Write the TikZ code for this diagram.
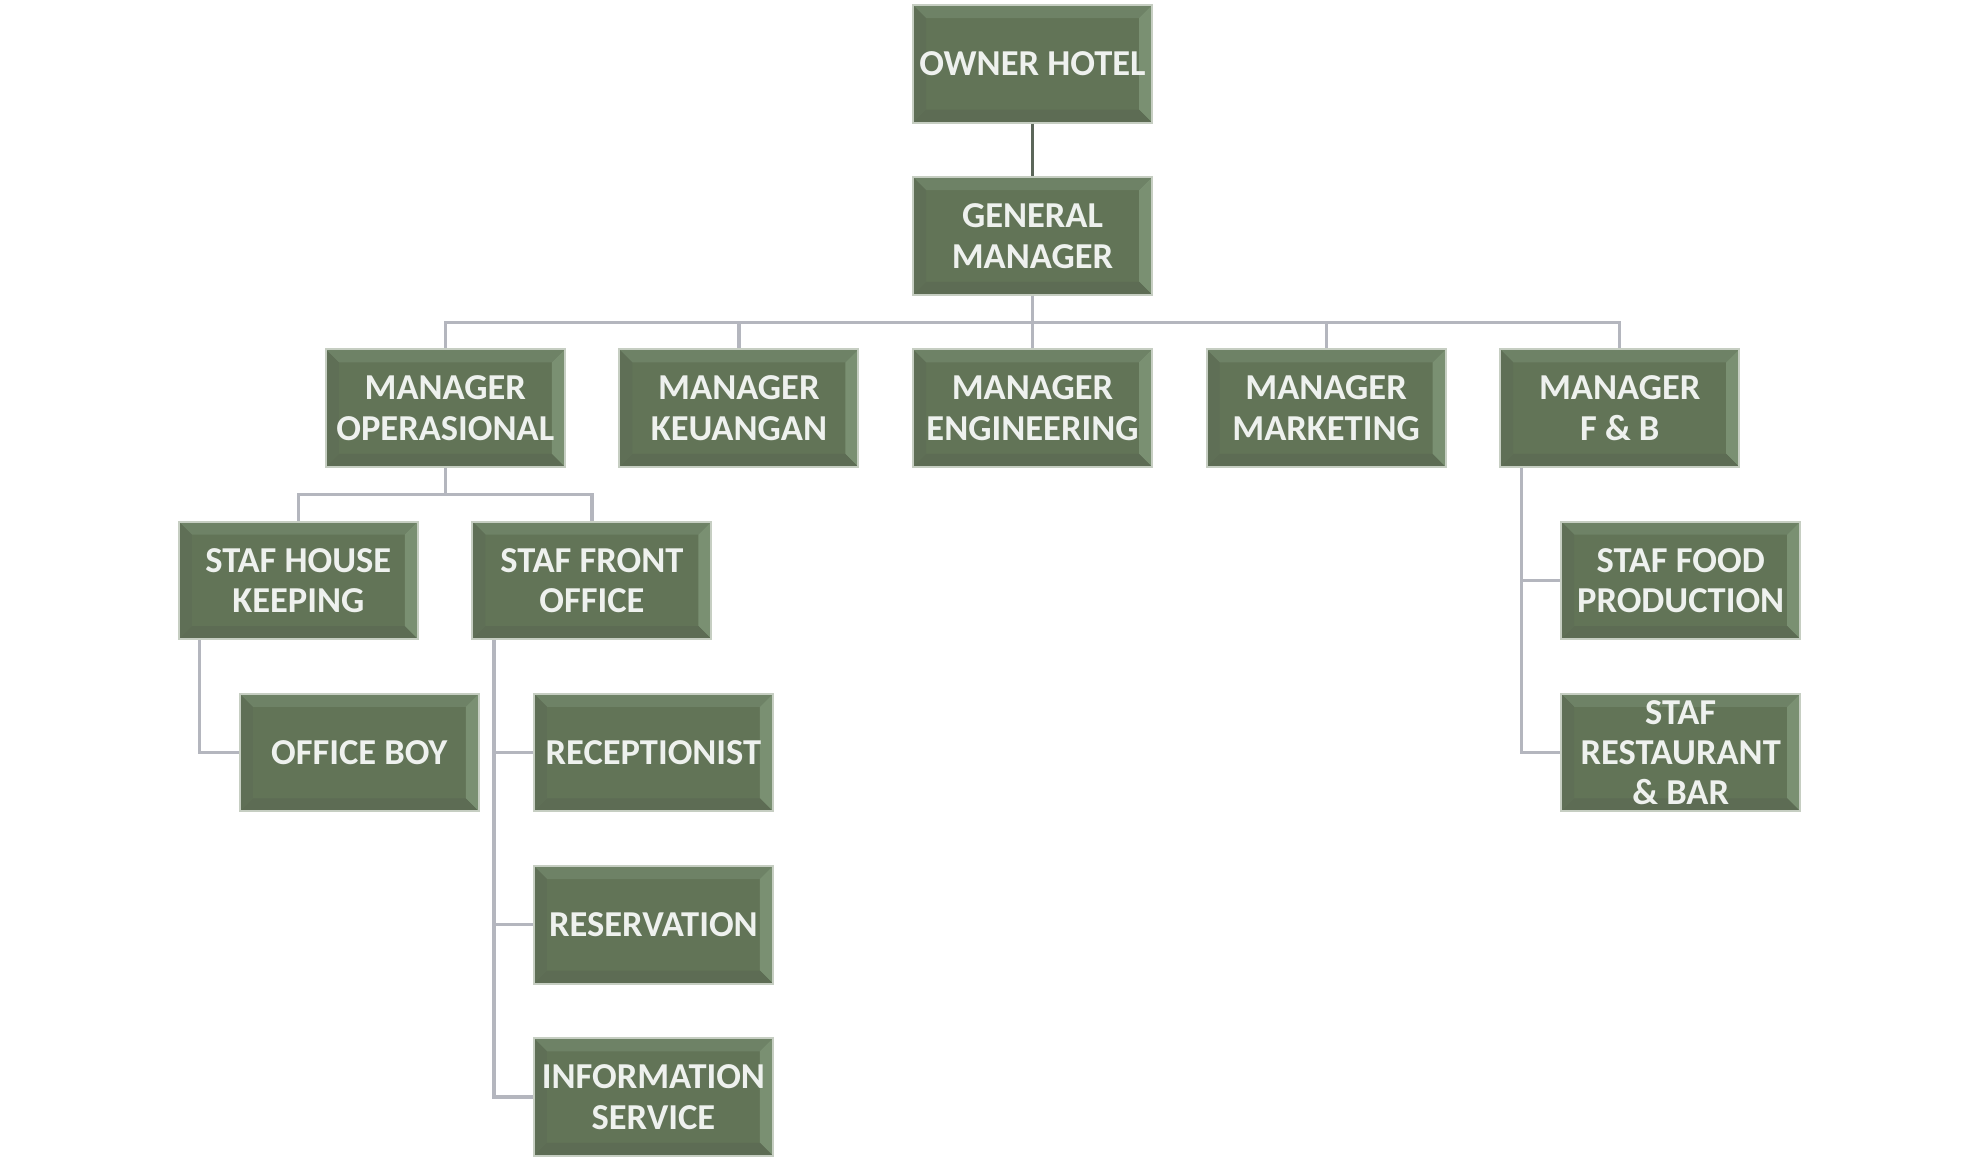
\documentclass[tikz,border=0pt]{standalone}
\usepackage{fontspec}
\setmainfont{Carlito}
\usetikzlibrary{positioning, calc}
\definecolor{boxfill}{HTML}{627457}
\definecolor{boxtop}{HTML}{6E8266}
\definecolor{boxright}{HTML}{7A9072}
\definecolor{boxleft}{HTML}{5F6F56}
\definecolor{boxbottom}{HTML}{5D6C54}
\definecolor{boxrim}{HTML}{C6CEC2}
\definecolor{boxtext}{HTML}{EEF1EE}
\definecolor{linkgray}{HTML}{B4B6BE}
\definecolor{trunkgray}{HTML}{5C675A}
\begin{document}
\begin{tikzpicture}[
  x=1pt, y=1pt,
  node distance=52.7pt and 52.6pt,
  box/.style={draw=boxrim, line width=2pt, fill=boxfill, text=boxtext,
    minimum width=239pt, minimum height=117.5pt, inner sep=0pt, align=center,
    font=\bfseries\fontsize{36.5}{40.4}\selectfont,
    path picture={
      \path (path picture bounding box.south west) coordinate (pw)
            (path picture bounding box.north east) coordinate (pe);
      \fill[boxtop] (pw|-pe) -- (pe) -- ($(pe)+(-13,-13)$) -- ($(pw|-pe)+(13,-13)$) -- cycle;
      \fill[boxright] (pe) -- (pe|-pw) -- ($(pe|-pw)+(-13,13)$) -- ($(pe)+(-13,-13)$) -- cycle;
      \fill[boxbottom] (pe|-pw) -- (pw) -- ($(pw)+(13,13)$) -- ($(pe|-pw)+(-13,13)$) -- cycle;
      \fill[boxleft] (pw) -- (pw|-pe) -- ($(pw|-pe)+(13,-13)$) -- ($(pw)+(13,13)$) -- cycle;
    }},
  link/.style={draw=linkgray, line width=3.2pt},
  trunk/.style={draw=trunkgray, line width=3.6pt}
]
\useasboundingbox (0,0) rectangle (1980,-1161);
\node[box] (owner) at (1032.5,-63.8) {OWNER HOTEL};
\node[box, below=of owner] (gm) {GENERAL\\MANAGER};
\node[box, below=of gm] (engmgr) {MANAGER\\ENGINEERING};
\node[box, left=of engmgr] (finmgr) {MANAGER\\KEUANGAN};
\node[box, left=of finmgr] (opsmgr) {MANAGER\\OPERASIONAL};
\node[box, right=of engmgr] (mktmgr) {MANAGER\\MARKETING};
\node[box, right=of mktmgr] (fbmgr) {MANAGER\\F \& B};
\node[box, below=of opsmgr, xshift=-147pt] (hk) {STAF HOUSE\\KEEPING};
\node[box, right=of hk] (fo) {STAF FRONT\\OFFICE};
\node[box, below=of hk, xshift=61pt] (oboy) {OFFICE BOY};
\node[box, below=of fo, xshift=61.5pt] (recep) {RECEPTIONIST};
\node[box, below=of recep] (reserv) {RESERVATION};
\node[box, below=of reserv] (info) {INFORMATION\\SERVICE};
\node[box, below=of fbmgr, xshift=61pt] (food) {STAF FOOD\\PRODUCTION};
\node[box, below=of food] (resto) {STAF\\RESTAURANT\\\& BAR};

\draw[trunk] (owner) -- (gm);
\foreach \m in {opsmgr,finmgr,engmgr,mktmgr,fbmgr}
  \draw[link] (gm.south) -- ++(0,-26.35) -| (\m.north);
\foreach \s in {hk,fo}
  \draw[link] (opsmgr.south) -- ++(0,-26.35) -| (\s.north);
\draw[link] ([xshift=22pt]hk.south west) |- (oboy.west);
\foreach \s in {recep,reserv,info}
  \draw[link] ([xshift=22.5pt]fo.south west) |- (\s.west);
\foreach \s in {food,resto}
  \draw[link] ([xshift=22.5pt]fbmgr.south west) |- (\s.west);
\end{tikzpicture}
\end{document}
